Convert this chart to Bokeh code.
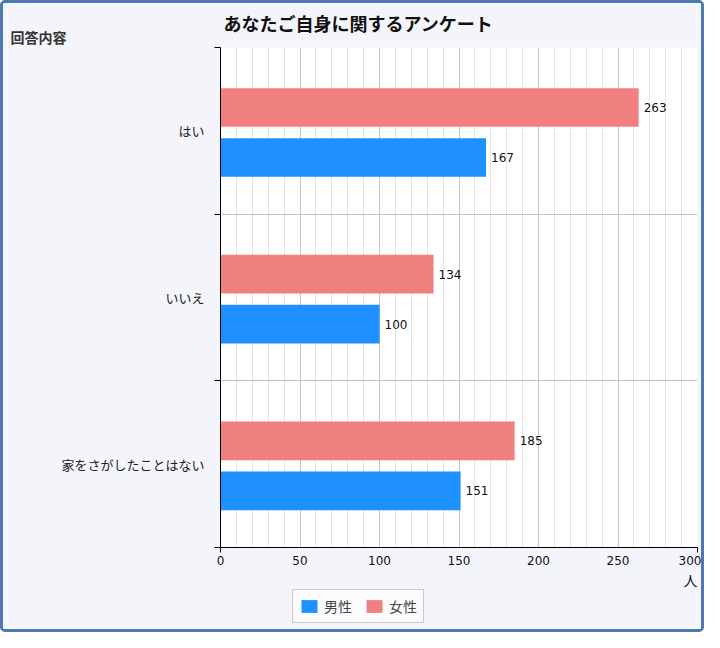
from bokeh.plotting import figure
from bokeh.layouts import column
from bokeh.models import (Range1d, FixedTicker, SingleIntervalTicker, ColumnDataSource,
                          LabelSet, Label, Title, Legend, LegendItem)
from bokeh.core.properties import value
from bokeh.embed import file_html
from bokeh.resources import INLINE

categories = ["はい", "いいえ", "家をさがしたことはない"]
male = [167, 100, 151]
female = [263, 134, 185]
series_names = ["男性", "女性"]
x_ticks = [0, 50, 100, 150, 200, 250, 300]

JP = "Noto Sans CJK JP"
NUM = "DejaVu Sans"
BLUE = "#1E90FF"
PINK = "#F08080"
BG = "#F4F5FB"
W = 698


def strip(h):
    f = figure(width=W, height=h, output_backend="svg", toolbar_location=None,
               x_axis_type=None, y_axis_type=None, min_border=0,
               x_range=Range1d(0, W), y_range=Range1d(0, h))
    f.frame_align = False
    f.border_fill_color = BG
    f.background_fill_color = BG
    f.outline_line_color = None
    f.xgrid.visible = False
    f.ygrid.visible = False
    return f


# title strip
top = strip(44)
top.add_layout(Label(x=355, y=25, text="あなたご自身に関するアンケート", text_align="center",
                     text_baseline="middle", text_font=JP, text_font_size="18px",
                     text_font_style="bold", text_color="#111"))
top.add_layout(Label(x=7, y=11, text="回答内容", text_align="left",
                     text_baseline="middle", text_font=JP, text_font_size="14px",
                     text_font_style="bold", text_color="#333"))

# main chart
centers = [i + 0.5 for i in range(len(categories))]
src_f = ColumnDataSource(dict(y=[c - 0.14 for c in centers], v=female, t=[str(v) for v in female]))
src_m = ColumnDataSource(dict(y=[c + 0.16 for c in centers], v=male, t=[str(v) for v in male]))

p = figure(width=W, height=542, output_backend="svg", toolbar_location=None,
           x_range=Range1d(0, 300), y_range=Range1d(3, 0),
           min_border_left=217, min_border_right=4, min_border_top=0, min_border_bottom=40)
p.frame_align = False
p.border_fill_color = BG
p.background_fill_color = "white"
p.outline_line_color = None

rf = p.hbar(y="y", right="v", left=0, height=0.232, source=src_f, color=PINK, line_color=None)
rm = p.hbar(y="y", right="v", left=0, height=0.232, source=src_m, color=BLUE, line_color=None)

for s in (src_f, src_m):
    p.add_layout(LabelSet(x="v", y="y", text="t", source=s, x_offset=5, text_baseline="middle",
                          text_font=value(NUM), text_font_size=value("12px"),
                          text_color=value("#111")))

p.xaxis.ticker = FixedTicker(ticks=x_ticks, minor_ticks=[0, 300])
p.xaxis.major_tick_out = 0
p.xaxis.major_tick_in = 0
p.xaxis.minor_tick_out = 5
p.xaxis.minor_tick_in = 0
p.xaxis.axis_line_color = "black"
p.xaxis.minor_tick_line_color = "black"
p.xaxis.major_label_text_font = NUM
p.xaxis.major_label_text_font_size = "12px"
p.xaxis.major_label_text_color = "#111"
p.xaxis.major_label_standoff = 3

p.yaxis.ticker = FixedTicker(ticks=centers, minor_ticks=[0, 1, 2, 3])
p.yaxis.major_label_overrides = {c: n for c, n in zip(centers, categories)}
p.yaxis.major_tick_out = 0
p.yaxis.major_tick_in = 0
p.yaxis.minor_tick_out = 6
p.yaxis.minor_tick_in = 0
p.yaxis.axis_line_color = "black"
p.yaxis.minor_tick_line_color = "black"
p.yaxis.major_label_text_font = JP
p.yaxis.major_label_text_font_size = "13px"
p.yaxis.major_label_text_color = "#222"
p.yaxis.major_label_standoff = 10

p.xgrid.ticker = SingleIntervalTicker(interval=50, num_minor_ticks=5)
p.xgrid.grid_line_color = "#c4c4c4"
p.xgrid.minor_grid_line_color = "#e4e4e4"
p.ygrid.ticker = FixedTicker(ticks=[1, 2])
p.ygrid.grid_line_color = "#c4c4c4"

p.add_layout(Title(text="人", align="right", text_font=JP,
                   text_font_size="14px", text_font_style="normal", text_color="#111",
                   standoff=0), "below")

# legend strip
lf = strip(40)
lsrc = ColumnDataSource(dict(y=[20], v=[1]))
lm = lf.hbar(y="y", right="v", left=0, height=1, source=lsrc, color=BLUE, line_color=None,
             visible=False)
lw = lf.hbar(y="y", right="v", left=0, height=1, source=lsrc, color=PINK, line_color=None,
             visible=False)
legend = Legend(items=[LegendItem(label=series_names[0], renderers=[lm]),
                       LegendItem(label=series_names[1], renderers=[lw])],
                orientation="horizontal", location=(289, 6),
                label_text_font=JP, label_text_font_size="14px",
                border_line_color="#999999", border_line_width=1,
                background_fill_color="white", background_fill_alpha=0.6,
                inactive_fill_alpha=0.0,
                glyph_width=20, glyph_height=16, spacing=12, padding=6, margin=0)
lf.add_layout(legend, "center")

layout = column(top, p, lf, spacing=0)
layout.styles = {"border": "3px solid #4d78b0", "border-radius": "5px", "background-color": BG}

open("out.html", "w").write(file_html(layout, INLINE))
